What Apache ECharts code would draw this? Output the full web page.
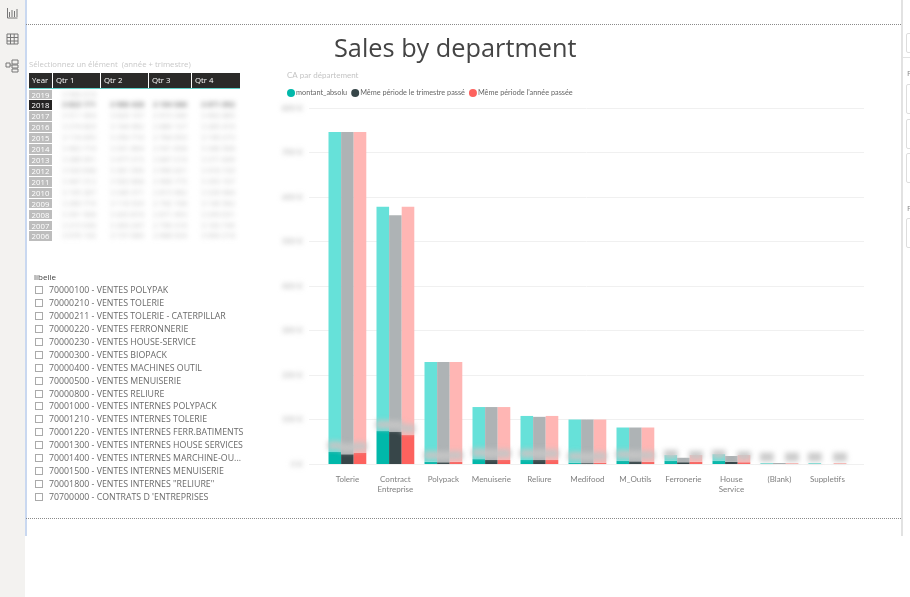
<!DOCTYPE html>
<html>
<head>
<meta charset="utf-8">
<title>Sales by department</title>
<script src="https://cdn.jsdelivr.net/npm/echarts@6/dist/echarts.min.js"></script>
<style>
html, body { margin: 0; padding: 0; background: #fff; overflow: hidden; }
body { width: 910px; height: 597px; position: relative; font-family: "Open Sans", sans-serif; }
#sales_chart, #blur_chart { position: absolute; left: 0; top: 0; width: 910px; height: 597px; }
#blur_chart { filter: blur(2.8px); pointer-events: none; }
.abs { position: absolute; }
#sidebar { left: 0; top: 0; width: 25px; height: 597px; background: #f3f2f0; }
#edge_left { left: 25px; top: 0; width: 1.5px; height: 536px; background: #c9d8f0; }
#edge_right { left: 901px; top: 0; width: 1.5px; height: 536px; background: #e2e2e2; }
.dots { left: 26px; width: 875px; height: 0; border-top: 1px dotted #8a8a8a; }
.pane_box { left: 906px; width: 20px; border: 1px solid #ddd; border-radius: 2px; box-sizing: border-box; }
#slicer_title { left: 29px; top: 59px; font-size: 7.75px; color: #c8c8c8; white-space: nowrap; }
#qtr_head div { position: absolute; top: 73px; height: 15px; line-height: 14px; background: #2b2a29; color: #fff; font-size: 7.8px; padding-left: 3px; box-sizing: border-box; }
#head_line { left: 29px; top: 88px; width: 211px; height: 1px; background: #5fd0c8; }
#year_col div { position: absolute; left: 29px; width: 23px; height: 9.8px; line-height: 10px; background: #bdbdbd; color: #fff; font-size: 7.8px; text-align: center; }
#year_col div.on { background: #252423; }
#qtr_vals { filter: blur(2.8px); }
#qtr_vals div { position: absolute; font-size: 7.5px; color: #bcbcbc; white-space: nowrap; }
#qtr_vals div.on { color: #666; font-weight: 600; }
#libelle_title { left: 34px; top: 271px; font-size: 8px; color: #444; }
#libelle_list div { position: absolute; left: 49px; font-size: 8.8px; line-height: 12px; color: #6a6a6a; white-space: nowrap; }
#libelle_list i { position: absolute; left: -14px; top: 2px; width: 8px; height: 8px; border: 1px solid #aaa; box-sizing: border-box; }
</style>
</head>
<body>
<div id="sales_chart"></div>
<div id="blur_chart"></div>

<div id="sidebar" class="abs">
  <svg width="25" height="80" viewBox="0 0 25 80">
    <g fill="none" stroke="#777" stroke-width="1">
      <path d="M7.5 8v10h10M9.5 17v-5M12 17v-7M14.5 17v-6M17 17v-8"/>
      <path d="M7 34h11v10h-11zM7 37.5h11M7 41h11M10.5 34v10M14.2 34v10"/>
      <path d="M6 63h4v4h-4zM12 60h6v4h-6zM12 65h6v3h-6zM12 69h6v3h-6zM10 65h2"/>
    </g>
  </svg>
</div>
<div id="edge_left" class="abs"></div>
<div id="edge_right" class="abs"></div>
<div class="abs dots" style="top:24px"></div>
<div class="abs dots" style="top:518px"></div>

<div class="abs" style="left:902px;top:57px;width:8px;height:1px;background:#e2e2e2"></div>
<div class="abs pane_box" style="top:33px;height:20px"></div>
<div class="abs pane_box" style="top:84px;height:30px"></div>
<div class="abs pane_box" style="top:119px;height:30px"></div>
<div class="abs pane_box" style="top:153px;height:30px"></div>
<div class="abs pane_box" style="top:218px;height:30px"></div>
<div class="abs" style="left:907px;top:67px;font-size:8px;color:#888">F</div>
<div class="abs" style="left:907px;top:202px;font-size:8px;color:#888">F</div>

<div id="slicer_title" class="abs">Sélectionnez un élément&nbsp; (année + trimestre)</div>
<div id="qtr_head"></div>
<div id="head_line" class="abs"></div>
<div id="year_col"></div>
<div id="qtr_vals"></div>

<div id="libelle_title" class="abs">libelle</div>
<div id="libelle_list"></div>

<script>
// Slicer année / trimestre
var qtrHeaders = ["Year", "Qtr 1", "Qtr 2", "Qtr 3", "Qtr 4"];
var years = ["2019", "2018", "2017", "2016", "2015", "2014", "2013", "2012", "2011", "2010", "2009", "2008", "2007", "2006"];
var selectedYear = "2018";
// Montants illisibles (floutes dans la source), estimes
var qtr1Values = ["3 950 210", "3 823 171", "3 511 904", "3 274 820", "3 118 455", "3 402 716", "3 286 091", "3 520 648", "3 447 312", "3 105 287", "3 260 774", "3 391 508", "3 215 930", "3 076 142"];
var qtr2Values = ["", "3 906 428", "3 620 157", "3 184 962", "3 350 716", "3 291 804", "3 477 215", "3 361 090", "3 502 668", "3 240 371", "3 118 529", "3 433 816", "3 309 247", "3 157 680"];
var qtr3Values = ["", "3 104 586", "2 915 340", "2 880 127", "2 764 093", "2 931 658", "2 847 210", "2 990 431", "2 906 775", "2 815 962", "2 742 108", "2 871 493", "2 790 316", "2 688 024"];
var qtr4Values = ["", "3 671 092", "3 402 885", "3 285 416", "3 190 273", "3 346 508", "3 271 649", "3 418 720", "3 355 107", "3 226 984", "3 140 562", "3 299 031", "3 183 745", "3 064 218"];

// Filtre libelle
var libelles = [
	"70000100 - VENTES POLYPAK",
	"70000210 - VENTES TOLERIE",
	"70000211 - VENTES TOLERIE - CATERPILLAR",
	"70000220 - VENTES FERRONNERIE",
	"70000230 - VENTES HOUSE-SERVICE",
	"70000300 - VENTES BIOPACK",
	"70000400 - VENTES MACHINES OUTIL",
	"70000500 - VENTES MENUISERIE",
	"70000800 - VENTES RELIURE",
	"70001000 - VENTES INTERNES POLYPACK",
	"70001210 - VENTES INTERNES TOLERIE",
	"70001220 - VENTES INTERNES FERR.BATIMENTS",
	"70001300 - VENTES INTERNES HOUSE SERVICES",
	"70001400 - VENTES INTERNES MARCHINE-OU...",
	"70001500 - VENTES INTERNES MENUISERIE",
	"70001800 - VENTES INTERNES \"RELIURE\"",
	"70700000 - CONTRATS D 'ENTREPRISES"
];

// Graphique : CA par departement
var departments = ["Tolerie", "Contract\nEntreprise", "Polypack", "Menuiserie", "Reliure", "Medifood", "M_Outils", "Ferronerie", "House\nService", "(Blank)", "Suppletifs"];
var seriesNames = ["montant_absolu", "Même période le trimestre passé", "Même période l'année passée"];
var yTicks = ["0 K", "100 K", "200 K", "300 K", "400 K", "500 K", "600 K", "700 K", "800 K"];

// Partie foncee des barres
var montantSelected = [27, 74, 5, 11, 9, 3, 7, 7, 7, 1, 1];
var trimestreSelected = [22, 73, 4, 9, 9, 2, 6, 4, 5, 1, 0];
var anneeSelected = [25, 65, 5, 9, 9, 3, 5, 5, 4, 1, 1];
// Hauteur totale des barres
var montantTotal = [746, 578, 229, 128, 108, 100, 82, 20, 22, 2, 2];
var trimestreTotal = [746, 559, 229, 128, 106, 100, 82, 14, 18, 2, 0];
var anneeTotal = [746, 578, 229, 128, 108, 100, 82, 20, 20, 2, 2];

var solidValues = [montantSelected, trimestreSelected, anneeSelected];
var totalValues = [montantTotal, trimestreTotal, anneeTotal];
var darkColors = ["#01B8AA", "#374649", "#FD625E"];
var lightColors = ["#66E1D9", "#AEB3B5", "#FFB6B4"];
var labelledUpTo = [11, 7, 11];  // la serie du milieu n'a pas d'etiquette au-dela de M_Outils

function fillPanels() {
	var lefts = [29, 53, 101, 149, 192], widths = [23, 47, 47, 42, 48];
	var head = "";
	qtrHeaders.forEach(function (h, i) {
		head += '<div style="left:' + lefts[i] + 'px;width:' + widths[i] + 'px">' + h + "</div>";
	});
	document.getElementById("qtr_head").innerHTML = head;

	var yearHtml = "", valHtml = "";
	var cols = [qtr1Values, qtr2Values, qtr3Values, qtr4Values];
	var colLefts = [62, 110, 153, 201];
	years.forEach(function (y, r) {
		var top = 89.5 + r * 10.92;
		var on = y === selectedYear ? ' class="on"' : "";
		yearHtml += "<div" + on + ' style="top:' + top + 'px">' + y + "</div>";
		cols.forEach(function (c, k) {
			if (c[r]) valHtml += "<div" + on + ' style="top:' + (top - 1) + "px;left:" + colLefts[k] + 'px">' + c[r] + "</div>";
		});
	});
	document.getElementById("year_col").innerHTML = yearHtml;
	document.getElementById("qtr_vals").innerHTML = valHtml;

	var listHtml = "";
	libelles.forEach(function (l, i) {
		listHtml += '<div style="top:' + (284 + i * 12.94) + 'px"><i></i>' + l + "</div>";
	});
	document.getElementById("libelle_list").innerHTML = listHtml;
}

var gridBars = { left: 323.4, width: 528, top: 108, height: 356 };
var gridLines = { left: 309, width: 555, top: 108, height: 356 };

// Graphique net : barres, legende, titres, quadrillage
var chart = echarts.init(document.getElementById("sales_chart"));
var barSeries = [];
seriesNames.forEach(function (name, idx) {
	barSeries.push({
		name: name, type: "bar", stack: "s" + idx, barWidth: 12.6, barGap: 0, silent: true,
		itemStyle: { color: darkColors[idx] },
		data: solidValues[idx]
	}, {
		name: name + " (reste)", type: "bar", stack: "s" + idx, barWidth: 12.6, barGap: 0, silent: true,
		itemStyle: { color: lightColors[idx] },
		data: totalValues[idx].map(function (t, i) { return t - solidValues[idx][i]; })
	});
});
chart.setOption({
	animation: false,
	textStyle: { fontFamily: "Lato" },
	title: [
		{ text: "Sales by department", left: 329, top: 32, textStyle: { fontSize: 25.3, fontWeight: "normal", color: "#444", fontFamily: "Open Sans" } },
		{ text: "CA par département", left: 282, top: 66, textStyle: { fontSize: 8, fontWeight: "normal", color: "#c4c4c4", fontFamily: "Lato" } }
	],
	legend: {
		data: seriesNames,
		left: 282,
		top: 84,
		icon: "circle",
		itemWidth: 8,
		itemHeight: 8,
		itemGap: 4,
		textStyle: { fontSize: 7.3, color: "#666", fontFamily: "Lato", padding: [0, 0, 0, -4] }
	},
	grid: [gridBars, gridLines],
	xAxis: [
		{
			type: "category", gridIndex: 0, data: departments,
			axisLine: { show: false }, axisTick: { show: false },
			axisLabel: { interval: 0, fontSize: 8, lineHeight: 10, color: "#808080", margin: 10, fontFamily: "Lato" }
		},
		{ type: "value", gridIndex: 1, min: 0, max: 1, show: false }
	],
	yAxis: [
		{ type: "value", gridIndex: 0, min: 0, max: 800, interval: 100, show: false },
		{
			type: "value", gridIndex: 1, min: 0, max: 800, interval: 100,
			axisLine: { show: false }, axisTick: { show: false },
			splitLine: { lineStyle: { color: "#f0f0f0" } },
			axisLabel: { show: false }
		}
	],
	series: barSeries
});

// Graphique floute : memes echelles, seulement les etiquettes (illisibles dans la source)
var blurChart = echarts.init(document.getElementById("blur_chart"));
blurChart.setOption({
	animation: false,
	textStyle: { fontFamily: "Lato" },
	grid: [gridBars, gridLines],
	xAxis: [
		{ type: "category", gridIndex: 0, data: departments, axisLine: { show: false }, axisTick: { show: false }, axisLabel: { show: false } },
		{ type: "value", gridIndex: 1, min: 0, max: 1, show: false }
	],
	yAxis: [
		{ type: "value", gridIndex: 0, min: 0, max: 800, interval: 100, show: false },
		{
			type: "value", gridIndex: 1, min: 0, max: 800, interval: 100,
			axisLine: { show: false }, axisTick: { show: false }, splitLine: { show: false },
			axisLabel: {
				fontSize: 8, margin: 6, fontWeight: "bold", color: "#c4c4c4",
				formatter: function (v) { return yTicks[v / 100]; }
			}
		}
	],
	series: seriesNames.map(function (name, idx) {
		return {
			name: name, type: "bar", stack: "s" + idx, barWidth: 12.6, barGap: 0, silent: true,
			itemStyle: { color: "transparent" },
			data: solidValues[idx].map(function (v, i) {
				return { value: v, label: { show: i < labelledUpTo[idx] } };
			}),
			label: {
				show: true, position: "top", distance: 2, fontSize: 8, color: "#c6c6c6",
				backgroundColor: "rgba(198,198,198,0.85)",
				width: 14, height: 9, align: "center",
				formatter: "{c}K"
			}
		};
	})
});
fillPanels();
</script>
</body>
</html>
